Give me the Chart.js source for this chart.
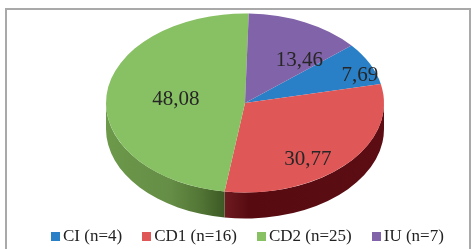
<!DOCTYPE html>
<html>
<head>
<meta charset="utf-8">
<script src="https://cdn.jsdelivr.net/npm/chart.js@4.4.0/dist/chart.umd.min.js"></script>
<style>
  html, body { margin: 0; padding: 0; background: #fff; }
  #wrap { position: relative; width: 476px; height: 249px; overflow: hidden; }
  #frame { position: absolute; left: 5px; top: 8px; width: 462px; height: 260px; border: 2px solid #a9a9a9; }
  canvas { position: absolute; left: 0; top: 0; }
  #legend { position: absolute; left: 51px; top: 226px; display: flex; font: 17px 'Liberation Serif', serif; color: #222; line-height: 20px; }
  .item { display: flex; align-items: center; margin-right: 20px; }
  .box { width: 9px; height: 9px; margin-right: 3px; }
</style>
</head>
<body>
<div id="wrap">
  <div id="frame"></div>
  <canvas id="pie" width="476" height="249"></canvas>
  <div id="legend"></div>
</div>
<script>
// Data
const categories = ['CI (n=4)', 'CD1 (n=16)', 'CD2 (n=25)', 'IU (n=7)'];
const percents = [7.69, 30.77, 48.08, 13.46];
const valueLabels = ['7,69', '30,77', '48,08', '13,46'];

// Styles
const topColors = ['#2a80c6', '#e05757', '#88c064', '#8063a8'];
const sideStops = [
  [[0, '#14507e'], [1, '#0f3f66']],
  [[0, '#6e1b21'], [0.15, '#570b10'], [1, '#5b0d13']],
  [[0, '#6c994a'], [0.55, '#658d46'], [0.8, '#527535'], [1, '#3c5924']],
  [[0, '#4e3a6a'], [1, '#3e2e56']]
];
// label placement as fraction of the radius (x, y) along each slice's mid angle
const labelShift = [[0.92, 0.70], [0.62, 0.93], [0.50, 0.40], [0.90, 0.53]];

const pieGeom = { cx: 245, cy: 103, rx: 139, ry: 89.5, depth: 26, firstAngle: 50 };

// Legend
const legend = document.getElementById('legend');
categories.forEach((c, i) => {
  const item = document.createElement('div');
  item.className = 'item';
  item.innerHTML = '<span class="box" style="background:' + topColors[i] + '"></span><span>' + c + '</span>';
  legend.appendChild(item);
});

// Tilted pie: side wall, squashed top face, labels
const tiltPlugin = {
  id: 'tilt',
  beforeDatasetsDraw(chart) {
    const ctx = chart.ctx;
    const arcs = chart.getDatasetMeta(0).data;
    const g = pieGeom;
    arcs.forEach((arc, i) => {
      let s = arc.startAngle, e = arc.endAngle;
      const off = Math.floor(s / (2 * Math.PI)) * 2 * Math.PI;
      s -= off; e -= off;
      const ranges = [[0, Math.PI], [2 * Math.PI, 3 * Math.PI]];
      ranges.forEach(([lo, hi]) => {
        const a1 = Math.max(s, lo), a2 = Math.min(e, hi);
        if (a2 <= a1) return;
        const x1 = g.cx + g.rx * Math.cos(a2), x2 = g.cx + g.rx * Math.cos(a1);
        const grad = ctx.createLinearGradient(Math.min(x1, x2), 0, Math.max(x1, x2), 0);
        sideStops[i].forEach(([p, c]) => grad.addColorStop(p, c));
        ctx.save();
        ctx.beginPath();
        ctx.ellipse(g.cx, g.cy, g.rx, g.ry, 0, a1, a2);
        ctx.ellipse(g.cx, g.cy + g.depth, g.rx, g.ry, 0, a2, a1, true);
        ctx.closePath();
        ctx.fillStyle = grad;
        ctx.fill();
        ctx.restore();
      });
    });
    const a0 = arcs[0];
    ctx.save();
    ctx.translate(g.cx, g.cy);
    ctx.scale(g.rx / a0.outerRadius, g.ry / a0.outerRadius);
    ctx.translate(-a0.x, -a0.y);
  },
  afterDatasetsDraw(chart) {
    const ctx = chart.ctx;
    ctx.restore();
    const g = pieGeom;
    const arcs = chart.getDatasetMeta(0).data;
    ctx.save();
    ctx.font = '21px "Liberation Serif", serif';
    ctx.fillStyle = '#262626';
    ctx.textAlign = 'center';
    ctx.textBaseline = 'middle';
    arcs.forEach((arc, i) => {
      const mid = (arc.startAngle + arc.endAngle) / 2;
      const x = g.cx + g.rx * Math.cos(mid) * labelShift[i][0];
      const y = g.cy + g.ry * Math.sin(mid) * labelShift[i][1];
      ctx.fillText(valueLabels[i], x, y);
    });
    ctx.restore();
  }
};

const ctx = document.getElementById('pie').getContext('2d');
new Chart(ctx, {
  type: 'pie',
  data: {
    labels: categories,
    datasets: [{
      data: percents,
      backgroundColor: topColors,
      borderWidth: 0
    }]
  },
  options: {
    responsive: false,
    animation: false,
    rotation: pieGeom.firstAngle,
    layout: { padding: 0 },
    plugins: {
      legend: { display: false },
      tooltip: { enabled: false }
    }
  },
  plugins: [tiltPlugin]
});
</script>
</body>
</html>
